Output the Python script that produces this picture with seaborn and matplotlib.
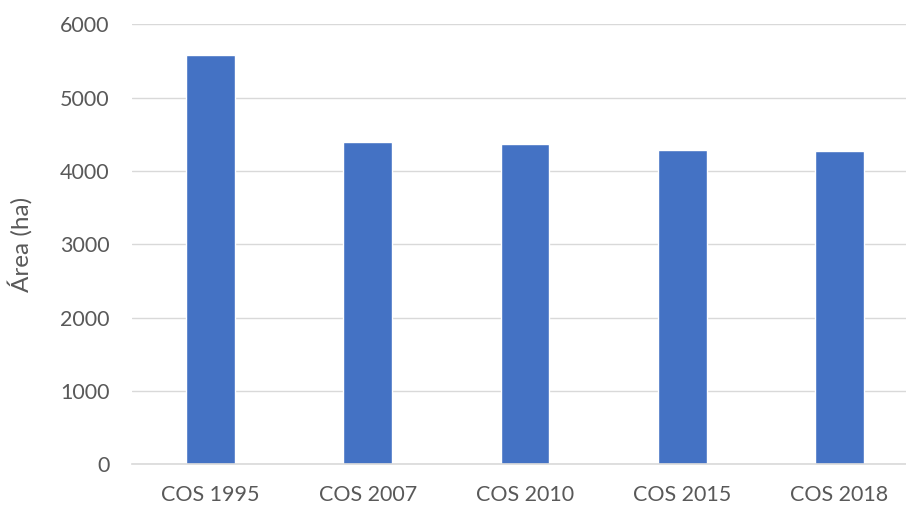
import matplotlib
matplotlib.use('Agg')
from matplotlib import pyplot as plt
import seaborn as sns
import pandas as pd

categories = ['COS 1995', 'COS 2007', 'COS 2010', 'COS 2015', 'COS 2018']
area_ha = [5582, 4395, 4364, 4286, 4272]
y_ticks = [0, 1000, 2000, 3000, 4000, 5000, 6000]

df = pd.DataFrame({'cos': categories, 'area': area_ha})

sns.set_style("white")
plt.rcParams['font.family'] = ['Lato', 'DejaVu Sans']

fig = plt.figure(figsize=(9.06, 5.05), dpi=100)
ax = fig.add_axes([0.1457, 0.0806, 0.8675, 0.8713])
sns.barplot(data=df, x='cos', y='area', color='#4472C4', saturation=1, width=0.31, ax=ax)

ax.set_xlim(-0.5, len(categories) - 0.5)
ax.set_ylim(0, 6000)
ax.set_yticks(y_ticks)
ax.yaxis.grid(True, color='#D9D9D9', linewidth=1)
ax.set_axisbelow(True)
for s in ['top', 'right', 'left']:
    ax.spines[s].set_visible(False)
ax.spines['bottom'].set_color('#D9D9D9')
ax.spines['bottom'].set_linewidth(1.2)

ax.tick_params(axis='both', length=0, labelsize=15.5, labelcolor='#595959')
ax.tick_params(axis='y', pad=16)
ax.tick_params(axis='x', pad=15)
ax.set_xlabel('')
ax.set_ylabel('Área (ha)', fontsize=17.5, color='#595959')
ax.yaxis.set_label_coords(-0.126, 0.5)

fig.savefig('out.png', dpi=100)
